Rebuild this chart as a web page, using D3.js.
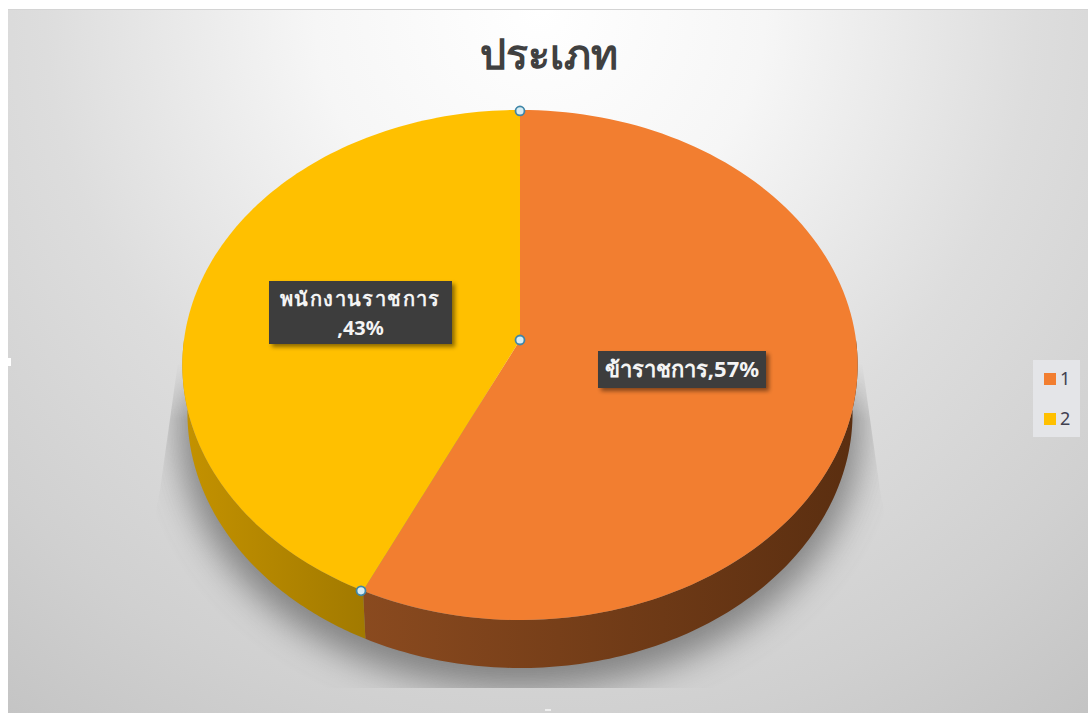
<!DOCTYPE html>
<html>
<head>
<meta charset="utf-8">
<script src="https://cdn.jsdelivr.net/npm/d3@7"></script>
<style>
  html, body { margin: 0; padding: 0; background: #fff; }
  svg { display: block; }
  text { font-family: "Noto Sans", "DejaVu Sans", "Noto Sans CJK SC", sans-serif; }
</style>
</head>
<body>
<svg id="chart"></svg>
<script>
const chartTitle = 'ประเภท';
const legendKeys = ['1', '2'];
const sliceNames = ['ข้าราชการ', 'พนักงานราชการ'];
const sliceValues = [57, 43];
const topColors = ['#f27e30', '#ffc000'];
const sideColors = [['#8a4a1f', '#5a2e10'], ['#a27a00', '#c49200']];

const width = 1088, height = 713;
const svg = d3.select('#chart').attr('width', width).attr('height', height);
const defs = svg.append('defs');

// background
let bg = defs.append('radialGradient').attr('id', 'bg')
    .attr('gradientUnits', 'userSpaceOnUse')
    .attr('cx', 540).attr('cy', 10).attr('r', 900);
[['0%', '#ffffff'], ['25%', '#f6f6f6'], ['55%', '#dddddd'], ['80%', '#d0d0d0'], ['100%', '#c3c3c3']]
    .forEach(s => bg.append('stop').attr('offset', s[0]).attr('stop-color', s[1]));

svg.append('rect').attr('width', width).attr('height', height).attr('fill', '#fff');
svg.append('rect')
    .attr('x', 8).attr('y', 10).attr('width', width - 8).attr('height', height - 10)
    .attr('fill', 'url(#bg)');
svg.append('line')
    .attr('x1', 8).attr('x2', width).attr('y1', 9.5).attr('y2', 9.5)
    .attr('stroke', '#d4d4d4');
// frame notches
svg.append('rect').attr('x', 8).attr('y', 358).attr('width', 3).attr('height', 8).attr('fill', '#fff');
svg.append('rect').attr('x', 545).attr('y', 10).attr('width', 8).attr('height', 3).attr('fill', '#fff');
svg.append('rect').attr('x', 545).attr('y', 709).attr('width', 6).attr('height', 2).attr('fill', '#eee');

svg.append('text')
    .attr('x', 549).attr('y', 69)
    .attr('text-anchor', 'middle')
    .attr('font-size', 41).attr('font-weight', 'bold')
    .attr('fill', '#404040')
    .text(chartTitle);

// perspective of the pie plate
const cx = 520, cy = 340, halfW = 336, halfH = 252.6, persp = 0.098;
const project = (angle, r = 1) => {
    let u = Math.sin(angle) * r, v = Math.cos(angle) * r;
    let s = 1 + persp * v;
    return [cx + halfW * u / s, cy - halfH * v / s];
};
const drop = 48;
const projectLow = angle => {
    let p = project(angle);
    return [cx + (p[0] - cx) * 0.985, p[1] + drop];
};

const line = d3.line();
const sample = (a0, a1) => d3.range(0, 121).map(i => a0 + (a1 - a0) * i / 120);

const slices = d3.pie().sort(null)(sliceValues);

// shadow, hard on the wedge sides near the top and cut off at the bottom
defs.append('filter').attr('id', 'blur')
    .attr('x', '-20%').attr('y', '-20%').attr('width', '140%').attr('height', '140%')
    .append('feGaussianBlur').attr('stdDeviation', 17);
defs.append('clipPath').attr('id', 'shadowClip')
    .append('polygon')
    .attr('points', '178,362 160,490 120,688 920,688 880,490 862,362');
let fade = defs.append('linearGradient').attr('id', 'shadowFade')
    .attr('gradientUnits', 'userSpaceOnUse')
    .attr('x1', 0).attr('x2', 0).attr('y1', 362).attr('y2', 420);
fade.append('stop').attr('offset', '0%').attr('stop-color', '#000');
fade.append('stop').attr('offset', '100%').attr('stop-color', '#fff');
defs.append('mask').attr('id', 'shadowMask')
    .attr('maskUnits', 'userSpaceOnUse')
    .attr('x', 0).attr('y', 0).attr('width', width).attr('height', height)
    .append('rect').attr('width', width).attr('height', height).attr('fill', 'url(#shadowFade)');
svg.append('g').attr('clip-path', 'url(#shadowClip)')
    .append('g').attr('mask', 'url(#shadowMask)')
    .append('path')
    .attr('d', line(sample(0, 2 * Math.PI).map(projectLow)) + 'Z')
    .attr('fill', '#666')
    .attr('opacity', 0.75)
    .attr('filter', 'url(#blur)')
    .attr('transform', 'translate(520,386) scale(1.025) translate(-520,-372)');

// side wall
slices.forEach((d, i) => {
    let a0 = Math.max(d.startAngle, Math.PI / 2);
    let a1 = Math.min(d.endAngle, 3 * Math.PI / 2);
    let top = sample(a0, a1).map(a => project(a));
    let low = sample(a1, a0).map(projectLow);
    let xs = d3.extent(top, p => p[0]);
    let grad = defs.append('linearGradient').attr('id', 'side' + i)
        .attr('gradientUnits', 'userSpaceOnUse')
        .attr('x1', xs[0]).attr('x2', xs[1]).attr('y1', 0).attr('y2', 0);
    let stops = i == 0 ? sideColors[0] : sideColors[1].slice().reverse();
    grad.append('stop').attr('offset', '0%').attr('stop-color', stops[0]);
    grad.append('stop').attr('offset', '100%').attr('stop-color', stops[1]);
    svg.append('path')
        .attr('d', line(top.concat(low)) + 'Z')
        .attr('fill', `url(#side${i})`);
});

// top face
slices.forEach((d, i) => {
    let pts = sample(d.startAngle, d.endAngle).map(a => project(a));
    pts.unshift([cx, cy]);
    svg.append('path')
        .attr('d', line(pts) + 'Z')
        .attr('fill', topColors[i]);
});

// selection handles
[project(0), [cx, cy], project(slices[0].endAngle)].forEach(p => {
    svg.append('circle')
        .attr('cx', p[0] - (p[1] > 500 ? 2 : 0)).attr('cy', p[1] + (p[1] < 200 ? 1 : 0)).attr('r', 4.5)
        .attr('fill', '#d8ecf2')
        .attr('stroke', '#3f86a8').attr('stroke-width', 1.8);
});

// data labels
defs.append('filter').attr('id', 'labelShadow')
    .attr('x', '-10%').attr('y', '-20%').attr('width', '125%').attr('height', '150%')
    .append('feDropShadow')
    .attr('dx', 3).attr('dy', 3).attr('stdDeviation', 2)
    .attr('flood-color', '#000').attr('flood-opacity', 0.45);

const labelBoxes = [
    { x: 598, y: 351, w: 168, h: 37, lines: [`${sliceNames[0]},${sliceValues[0]}%`], first: 377, size: 22 },
    { x: 269, y: 281, w: 183, h: 63, lines: [sliceNames[1], `,${sliceValues[1]}%`], first: 306, size: 20 }
];
labelBoxes.forEach(b => {
    svg.append('rect')
        .attr('x', b.x).attr('y', b.y).attr('width', b.w).attr('height', b.h)
        .attr('fill', '#3c3c3c')
        .attr('filter', 'url(#labelShadow)');
    b.lines.forEach((t, i) => {
        svg.append('text')
            .attr('x', b.x + b.w / 2).attr('y', b.first + i * 29)
            .attr('text-anchor', 'middle')
            .attr('font-size', b.size).attr('font-weight', 'bold')
            .attr('letter-spacing', i == 0 && b.h > 40 ? 1.4 : 0)
            .attr('fill', '#f4f4f4')
            .text(t);
    });
});

// legend
svg.append('rect')
    .attr('x', 1033).attr('y', 360).attr('width', 47).attr('height', 77)
    .attr('fill', '#e4e5e8');
const legendY = d3.scalePoint().domain(legendKeys).range([379, 419]);
legendKeys.forEach((k, i) => {
    svg.append('rect')
        .attr('x', 1044).attr('y', legendY(k) - 6).attr('width', 12).attr('height', 12)
        .attr('fill', topColors[i]);
    svg.append('text')
        .attr('x', 1060).attr('y', legendY(k) + 6)
        .attr('font-size', 18).attr('fill', '#404050')
        .text(k);
});
</script>
</body>
</html>
